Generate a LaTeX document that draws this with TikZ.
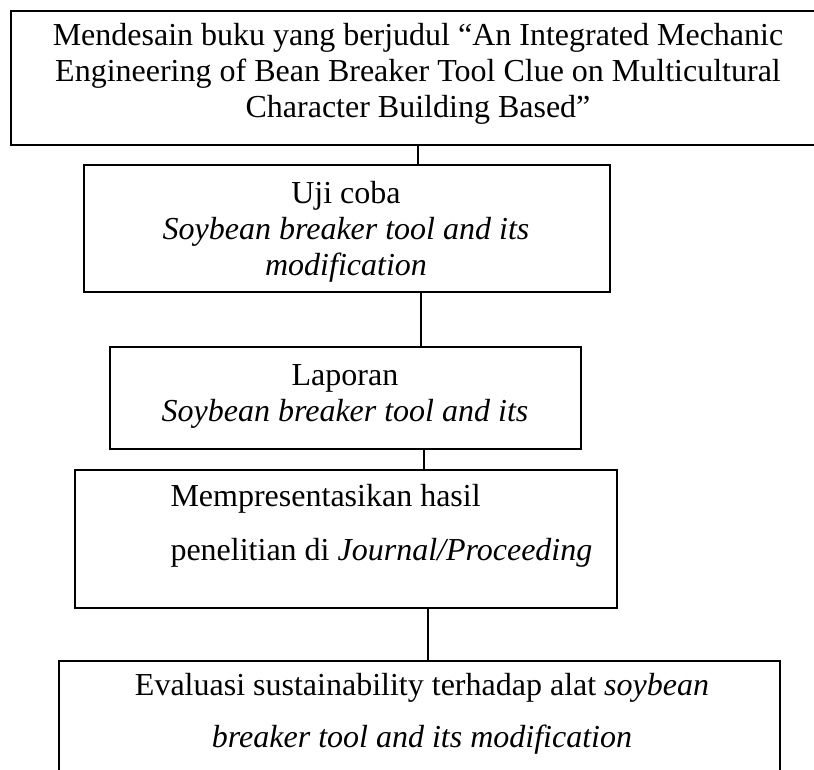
\documentclass[tikz,border=0pt]{standalone}
\usepackage{fontspec}
\setmainfont{Liberation Serif}
\begin{document}
\begin{tikzpicture}[x=0.375pt, y=-0.375pt,
  kotak/.style={draw, line width=0.65pt, inner sep=0pt, anchor=north west},
  teks/.style={align=center, anchor=base, inner sep=0pt, font=\fontsize{12}{13.5}\selectfont},
  garis/.style={line width=0.4pt}]
\clip (0,0) rectangle (814,769);
\node[kotak, minimum width=306pt, minimum height=50.25pt] (b1) at (10,10) {};
\node[kotak, minimum width=197.25pt, minimum height=47.625pt] (b2) at (83,164) {};
\node[kotak, minimum width=176.625pt, minimum height=38.25pt] (b3) at (109,346) {};
\node[kotak, minimum width=203.25pt, minimum height=51.75pt] (b4) at (74,469) {};
\node[kotak, minimum width=270.375pt, minimum height=52.5pt] (b5) at (58,660) {};
\node[teks] (t1) at (418,117) {Mendesain buku yang berjudul “An Integrated Mechanic\\ Engineering of Bean Breaker Tool Clue on Multicultural\\ Character Building Based”};
\node[teks] (t2) at (346,275) {Uji coba\\ \textit{Soybean breaker tool and its}\\ \textit{modification}};
\node[teks] (t3) at (345,421) {Laporan\\ \textit{Soybean breaker tool and its}};
\node[teks, align=left, anchor=base west, font=\fontsize{12}{19.9}\selectfont] (t4) at (170,560) {Mempresentasikan hasil\\ penelitian di \textit{Journal/Proceeding}};
\node[teks, font=\fontsize{12}{19.5}\selectfont] (t5) at (422,747) {Evaluasi sustainability terhadap alat \textit{soybean}\\ \textit{breaker tool and its modification}};
\draw[garis] (b1.south -| 418,0) -- (b2.north -| 418,0);
\draw[garis] (b2.south -| 421,0) -- (b3.north -| 421,0);
\draw[garis] (b3.south -| 424,0) -- (b4.north -| 424,0);
\draw[garis] (b4.south -| 428,0) -- (b5.north -| 428,0);
\end{tikzpicture}
\end{document}
